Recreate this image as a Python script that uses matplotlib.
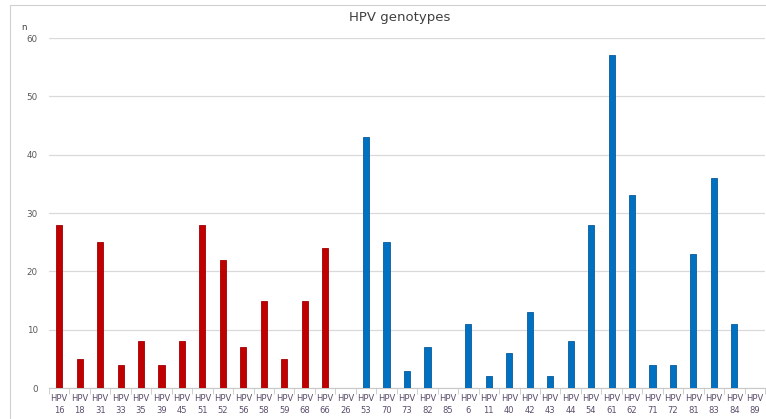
import numpy as np
import matplotlib.pyplot as plt
from matplotlib.patches import Rectangle

genotypes = ['16', '18', '31', '33', '35', '39', '45', '51', '52', '56', '58', '59', '68', '66',
             '26', '53', '70', '73', '82', '85', '6', '11', '40', '42', '43', '44', '54', '61',
             '62', '71', '72', '81', '83', '84', '89']
counts = [28, 5, 25, 4, 8, 4, 8, 28, 22, 7, 15, 5, 15, 24,
          0, 43, 25, 3, 7, 0, 11, 2, 6, 13, 2, 8, 28, 57,
          33, 4, 4, 23, 36, 11, 0]
n_high_risk = 14  # first group drawn in red

red = '#c00000'
blue = '#0070c0'
colors = [red] * n_high_risk + [blue] * (len(genotypes) - n_high_risk)
edges = ['#a00000'] * n_high_risk + ['#0a5a9c'] * (len(genotypes) - n_high_risk)

fig = plt.figure(figsize=(7.66, 4.19), dpi=100)
ax = fig.add_axes([49 / 766, 31 / 419, 716 / 766, 350 / 419])

x = np.arange(len(genotypes))
ax.bar(x, counts, width=0.3, color=colors, edgecolor=edges, linewidth=0.6, zorder=3)

ax.set_xlim(-0.5, len(genotypes) - 0.5)
ax.set_ylim(0, 60)
ax.set_yticks(np.arange(0, 61, 10))
ax.yaxis.grid(True, color='#d9d9d9', linewidth=0.9)
ax.set_axisbelow(True)

for s in ['top', 'right', 'left']:
  ax.spines[s].set_visible(False)
ax.spines['bottom'].set_color('#c8c8c8')

ax.set_xticks(x)
ax.set_xticklabels(['HPV\n' + g for g in genotypes], fontsize=6.0, color='#5b4d6b', linespacing=1.5)
ax.set_xticks(np.arange(-0.5, len(genotypes), 1), minor=True)
ax.tick_params(axis='x', which='major', length=0, pad=4)
ax.tick_params(axis='x', which='minor', length=4, color='#c8c8c8')
ax.tick_params(axis='y', length=0, labelsize=6.3, labelcolor='#595959', pad=8)

fig.text(400 / 766, 1 - 17 / 419, 'HPV genotypes', ha='center', va='center', fontsize=9.5, color='#404040')
fig.text(24 / 766, 1 - 27 / 419, 'n', ha='center', va='center', fontsize=6.3, color='#404040')

fig.patches.append(Rectangle((10 / 766, -0.1), 2, 1 - 5 / 419 + 0.1, transform=fig.transFigure,
                             fill=False, edgecolor='#d0d0d0', linewidth=0.8))

fig.savefig('out.png', dpi=100)
